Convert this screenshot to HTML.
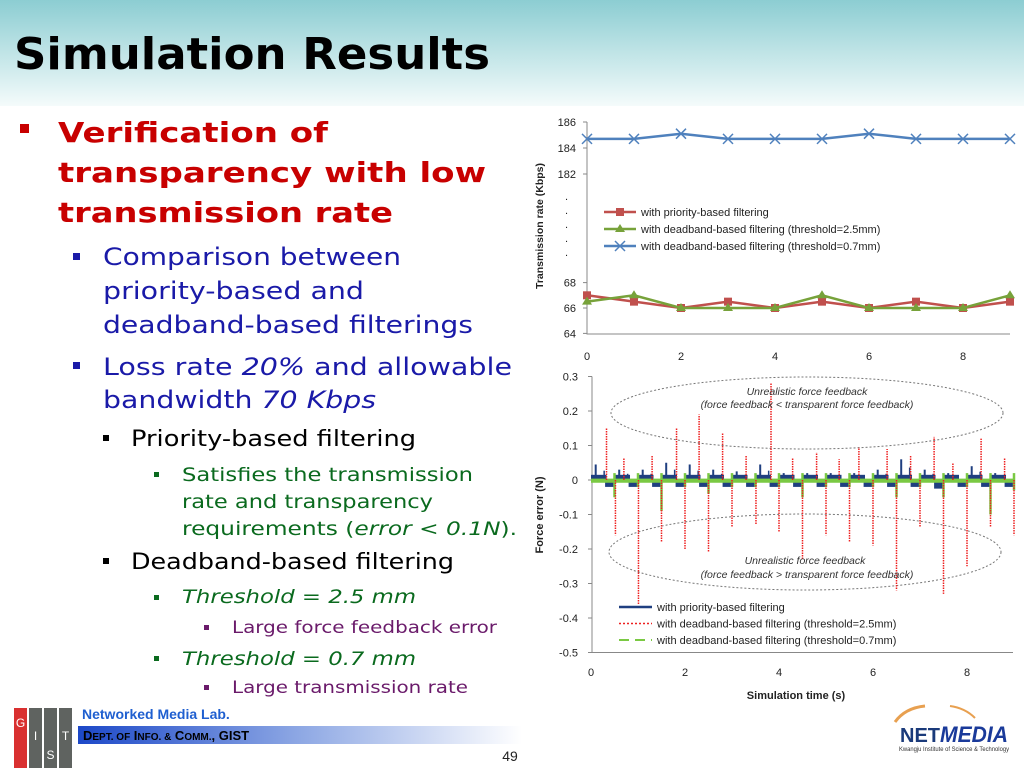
<!DOCTYPE html>
<html><head><meta charset="utf-8"><style>
html,body{margin:0;padding:0;width:1024px;height:768px;overflow:hidden;background:#fff}
svg{display:block;font-family:"DejaVu Sans","Liberation Sans",sans-serif}
.ax{font-family:"Liberation Sans",sans-serif;font-size:11px;fill:#222}
</style></head><body>
<svg id="page" width="1024" height="768" viewBox="0 0 1024 768">
<defs>
<linearGradient id="hdr" x1="0" y1="0" x2="0" y2="1"><stop offset="0" stop-color="#8ccdd2"/><stop offset="1" stop-color="#f4fbfb"/></linearGradient>
<linearGradient id="bar" x1="0" y1="0" x2="1" y2="0"><stop offset="0" stop-color="#1c48c8"/><stop offset="0.5" stop-color="#8ea8e4"/><stop offset="1" stop-color="#ffffff"/></linearGradient>
</defs>
<rect x="0" y="0" width="1024" height="106" fill="url(#hdr)"/>
<text x="14" y="69" font-size="44" font-weight="bold" textLength="476" lengthAdjust="spacingAndGlyphs">Simulation Results</text>

<g>
<rect x="20" y="124" width="9" height="9" fill="#c80000"/>
<g fill="#c80000" font-weight="bold" font-size="28">
<text x="58" y="142" textLength="270" lengthAdjust="spacingAndGlyphs">Verification of</text>
<text x="58" y="182" textLength="428" lengthAdjust="spacingAndGlyphs">transparency with low</text>
<text x="58" y="222" textLength="335" lengthAdjust="spacingAndGlyphs">transmission rate</text>
</g>
<g fill="#1a1aa8" font-size="24">
<rect x="73" y="253" width="7" height="7"/>
<text x="103" y="265" textLength="298" lengthAdjust="spacingAndGlyphs">Comparison between</text>
<text x="103" y="299" textLength="261" lengthAdjust="spacingAndGlyphs">priority-based and</text>
<text x="103" y="333" textLength="370" lengthAdjust="spacingAndGlyphs">deadband-based filterings</text>
<rect x="73" y="362" width="7" height="7"/>
<text x="103" y="375" textLength="409" lengthAdjust="spacingAndGlyphs">Loss rate <tspan font-style="italic">20%</tspan> and allowable</text>
<text x="103" y="408" textLength="273" lengthAdjust="spacingAndGlyphs">bandwidth <tspan font-style="italic">70 Kbps</tspan></text>
</g>
<g fill="#000" font-size="22">
<rect x="103" y="435" width="6" height="6"/>
<text x="131" y="446" textLength="285" lengthAdjust="spacingAndGlyphs">Priority-based filtering</text>
<rect x="103" y="558" width="6" height="6"/>
<text x="131" y="569" textLength="323" lengthAdjust="spacingAndGlyphs">Deadband-based filtering</text>
</g>
<g fill="#0a6a1e" font-size="19">
<rect x="154" y="472" width="5" height="5"/>
<text x="182" y="481" textLength="291" lengthAdjust="spacingAndGlyphs">Satisfies the transmission</text>
<text x="182" y="508" textLength="251" lengthAdjust="spacingAndGlyphs">rate and transparency</text>
<text x="182" y="535" textLength="335" lengthAdjust="spacingAndGlyphs">requirements (<tspan font-style="italic">error &lt; 0.1N</tspan>).</text>
<rect x="154" y="595" width="5" height="5"/>
<text x="182" y="603" font-style="italic" textLength="234" lengthAdjust="spacingAndGlyphs">Threshold = 2.5 mm</text>
<rect x="154" y="656" width="5" height="5"/>
<text x="182" y="665" font-style="italic" textLength="234" lengthAdjust="spacingAndGlyphs">Threshold = 0.7 mm</text>
</g>
<g fill="#6a1a6a" font-size="17">
<rect x="204" y="625" width="5" height="5"/>
<text x="232" y="633" textLength="265" lengthAdjust="spacingAndGlyphs">Large force feedback error</text>
<rect x="204" y="685" width="5" height="5"/>
<text x="232" y="693" textLength="236" lengthAdjust="spacingAndGlyphs">Large transmission rate</text>
</g>
</g>

<g id="chart1"></g>
<g id="chart2"></g>

<g>
<g>
<rect x="14" y="708" width="13" height="60" fill="#d93030"/>
<rect x="29" y="708" width="13" height="60" fill="#5f6360"/>
<rect x="44" y="708" width="13" height="60" fill="#5f6360"/>
<rect x="59" y="708" width="13" height="60" fill="#5f6360"/>
<g fill="#fff" font-family="Liberation Sans" font-size="12" text-anchor="middle">
<text x="20.5" y="727">G</text><text x="35.5" y="740">I</text><text x="50.5" y="759">S</text><text x="65.5" y="740">T</text></g>
</g>
<text x="82" y="719" font-family="Liberation Sans" font-weight="bold" font-size="14" fill="#1f5fd0">Networked Media Lab.</text>
<rect x="78" y="726" width="444" height="18" fill="url(#bar)"/>
<text x="83" y="740" font-family="Liberation Sans" font-weight="bold" font-size="13" fill="#000">D<tspan font-size="10">EPT. OF</tspan> I<tspan font-size="10">NFO. &amp;</tspan> C<tspan font-size="10">OMM.</tspan>, GIST</text>
<text x="510" y="761" font-family="Liberation Sans" font-size="14" text-anchor="middle" fill="#222">49</text>
<g>
<path d="M895 722 Q905 708 925 706" stroke="#e8a050" stroke-width="3" fill="none"/>
<path d="M950 706 Q965 708 975 718" stroke="#e8a050" stroke-width="2" fill="none"/>
<text x="900" y="742" font-family="Liberation Sans" font-weight="bold" font-size="20" fill="#1a3a7a" textLength="40" lengthAdjust="spacingAndGlyphs">NET</text>
<text x="940" y="742" font-family="Liberation Sans" font-weight="bold" font-style="italic" font-size="22" fill="#1a3a9a" textLength="68" lengthAdjust="spacingAndGlyphs">MEDIA</text>
<text x="899" y="751" font-family="Liberation Sans" font-size="6" fill="#333" textLength="110" lengthAdjust="spacingAndGlyphs">Kwangju Institute of Science &amp; Technology</text>
</g>
</g>
</svg>
<script>
// ---- Chart 1 data ----
const c1Times = [0,1,2,3,4,5,6,7,8,9];
const c1Priority = [67,66.5,66,66.5,66,66.5,66,66.5,66,66.5];
const c1Dead25 = [66.5,67,66,66,66,67,66,66,66,67];
const c1Dead07 = [184.7,184.7,185.1,184.7,184.7,184.7,185.1,184.7,184.7,184.7];
const c1YTicksHigh = [186,184,182];
const c1YTicksLow = [68,66,64];
const c1XTicks = [0,2,4,6,8];
const c1Legend = ["with priority-based filtering","with deadband-based filtering (threshold=2.5mm)","with deadband-based filtering (threshold=0.7mm)"];

// ---- Chart 2 data ----
const c2UpTimes = [0.33,0.7,1.3,1.82,2.3,2.8,3.3,3.83,4.29,4.8,5.28,5.7,6.3,6.8,7.3,7.7,8.3,8.8];
const c2UpVals = [0.15,0.065,0.07,0.15,0.19,0.135,0.07,0.28,0.065,0.08,0.06,0.095,0.09,0.07,0.125,0.05,0.12,0.065];
const c2DownTimes = [0.52,1.01,1.5,2.0,2.5,3.0,3.51,4.0,4.5,5.0,5.5,6.0,6.5,7.0,7.5,8.0,8.5,9.0];
const c2DownVals = [-0.16,-0.36,-0.18,-0.2,-0.21,-0.135,-0.13,-0.15,-0.23,-0.16,-0.18,-0.19,-0.32,-0.135,-0.33,-0.25,-0.135,-0.16];
const c2GreenTimes = [0.5,1.0,1.5,2.0,2.5,3.0,3.5,4.0,4.5,5.0,5.5,6.0,6.5,7.0,7.5,8.0,8.5,9.0];
const c2GreenVals = [-0.05,-0.02,-0.09,-0.02,-0.04,-0.02,-0.02,-0.02,-0.05,-0.02,-0.02,-0.02,-0.05,-0.02,-0.05,-0.02,-0.1,-0.03];
const c2BlueTimes = [0.1,0.6,1.1,1.6,2.1,2.6,3.1,3.6,4.1,4.6,5.1,5.6,6.1,6.6,7.1,7.6,8.1,8.6];
const c2BluePeaks = [0.045,0.03,0.03,0.05,0.045,0.03,0.025,0.045,0.02,0.02,0.02,0.02,0.03,0.06,0.03,0.02,0.04,0.02];
const c2BlueDips = [-0.02,-0.02,-0.02,-0.02,-0.02,-0.02,-0.02,-0.02,-0.02,-0.02,-0.02,-0.02,-0.02,-0.02,-0.025,-0.02,-0.02,-0.02];
const c2YTicks = [0.3,0.2,0.1,0,-0.1,-0.2,-0.3,-0.4,-0.5];
const c2XTicks = [0,2,4,6,8];
const c2Legend = ["with priority-based filtering","with deadband-based filtering (threshold=2.5mm)","with deadband-based filtering (threshold=0.7mm)"];

const NS="http://www.w3.org/2000/svg";
function mk(parent,tag,attrs,txt){const e=document.createElementNS(NS,tag);for(const k in attrs)e.setAttribute(k,attrs[k]);if(txt!==undefined)e.textContent=txt;parent.appendChild(e);return e;}

// Chart 1
(function(){
const g=document.getElementById('chart1');
const X=t=>587+t*47;
const Y=v=> v>=100 ? 148-(v-184)*13 : 308-(v-66)*12.7;
const ax=mk(g,'path',{d:'M587 122 V334 H1010',stroke:'#888',fill:'none'});


c1YTicksHigh.concat(c1YTicksLow).forEach(v=>{
  const t=mk(g,'text',{x:576,y:Y(v)+4,'text-anchor':'end',class:'ax','font-size':'12'},String(v));
  
  
  mk(g,'line',{x1:583,x2:587,y1:Y(v),y2:Y(v),stroke:'#888'});
});
[200,214,228,242,256].forEach(y=>mk(g,'text',{x:565,y:y,'font-size':'10',class:'ax'},'.'));
c1XTicks.forEach(v=>{
  const t=mk(g,'text',{x:X(v),y:360,'text-anchor':'middle',class:'ax','font-size':'12'},String(v));
  
  
});
const yl=mk(g,'text',{transform:'translate(543,226) rotate(-90)','text-anchor':'middle','font-family':'Liberation Sans','font-weight':'bold','font-size':'10.5',fill:'#222'},'Transmission rate (Kbps)');


const series=[[c1Priority,'#c0504d','sq'],[c1Dead25,'#77a23a','tri'],[c1Dead07,'#4f81bd','x']];
series.forEach((s,si)=>{
  const pts=c1Times.map((t,i)=>X(t)+','+Y(s[0][i])).join(' ');
  const pl=mk(g,'polyline',{points:pts,fill:'none',stroke:s[1],'stroke-width':2.5});
  
  
  c1Times.forEach((t,i)=>{
    const x=X(t),y=Y(s[0][i]);
    if(s[2]==='sq') mk(g,'rect',{x:x-4,y:y-4,width:8,height:8,fill:s[1]});
    else if(s[2]==='tri') mk(g,'path',{d:`M${x} ${y-5}L${x+5} ${y+3}L${x-5} ${y+3}Z`,fill:s[1]});
    else mk(g,'path',{d:`M${x-5} ${y-5}L${x+5} ${y+5}M${x-5} ${y+5}L${x+5} ${y-5}`,stroke:s[1],'stroke-width':1.5});
  });
  const ly=212+si*17;
  const lg=mk(g,'g',{});
  
  
  mk(lg,'line',{x1:604,x2:636,y1:ly,y2:ly,stroke:s[1],'stroke-width':2.5});
  if(s[2]==='sq') mk(lg,'rect',{x:616,y:ly-4,width:8,height:8,fill:s[1]});
  else if(s[2]==='tri') mk(lg,'path',{d:`M620 ${ly-5}L625 ${ly+3}L615 ${ly+3}Z`,fill:s[1]});
  else mk(lg,'path',{d:`M615 ${ly-5}L625 ${ly+5}M615 ${ly+5}L625 ${ly-5}`,stroke:s[1],'stroke-width':1.5});
  mk(lg,'text',{x:641,y:ly+4,class:'ax','font-size':'11.5'},c1Legend[si]);
});
})();

// Chart 2
(function(){
const g=document.getElementById('chart2');
const X=t=>591+t*47;
const Y=v=>480-v*345;
const ax=mk(g,'path',{d:`M592 ${Y(0.3)} V${Y(-0.5)} H1013`,stroke:'#888',fill:'none'});


c2YTicks.forEach(v=>{
  const t=mk(g,'text',{x:578,y:Y(v)+4,'text-anchor':'end',class:'ax','font-size':'10.5'},v===0?'0':String(v));
  
  
  mk(g,'line',{x1:588,x2:592,y1:Y(v),y2:Y(v),stroke:'#888'});
});
c2XTicks.forEach(v=>{
  const t=mk(g,'text',{x:X(v),y:676,'text-anchor':'middle',class:'ax','font-size':'11.5'},String(v));
  
  
});
const yl=mk(g,'text',{transform:'translate(543,515) rotate(-90)','text-anchor':'middle','font-family':'Liberation Sans','font-weight':'bold','font-size':'11',fill:'#222'},'Force error (N)');


const xl=mk(g,'text',{x:796,y:699,'text-anchor':'middle','font-family':'Liberation Sans','font-weight':'bold','font-size':'11',fill:'#222'},'Simulation time (s)');


const e1=mk(g,'ellipse',{cx:807,cy:413,rx:196,ry:36,fill:'none',stroke:'#777','stroke-dasharray':'2 2'});


const e2=mk(g,'ellipse',{cx:805,cy:552,rx:196,ry:38,fill:'none',stroke:'#777','stroke-dasharray':'2 2'});


const bl=mk(g,'g',{});


c2BlueTimes.forEach((t,i)=>{
  const x0=X(t-0.1);
  mk(bl,'rect',{x:x0,y:Y(0.015),width:47*0.33,height:Y(0)-Y(0.015),fill:'#1f3f80'});
  mk(bl,'rect',{x:X(t+0.2),y:Y(0),width:47*0.22,height:Y(c2BlueDips[i])-Y(0),fill:'#1f3f80'});
  mk(bl,'line',{x1:X(t),x2:X(t),y1:Y(0),y2:Y(c2BluePeaks[i]),stroke:'#1f3f80','stroke-width':2});
  mk(bl,'line',{x1:X(t+0.18),x2:X(t+0.18),y1:Y(0),y2:Y(c2BluePeaks[i]*0.6),stroke:'#1f3f80','stroke-width':1.5});
});
const gr=mk(g,'g',{});


mk(gr,'rect',{x:X(0),y:Y(0.004),width:X(9)-X(0),height:Y(-0.008)-Y(0.004),fill:'#7ac943'});
c2GreenTimes.forEach((t,i)=>{
  mk(gr,'line',{x1:X(t),x2:X(t),y1:Y(0.02),y2:Y(c2GreenVals[i]),stroke:'#7ac943','stroke-width':2.5});
});
const rd=mk(g,'g',{});


c2UpTimes.forEach((t,i)=>{
  mk(rd,'line',{x1:X(t),x2:X(t),y1:Y(0),y2:Y(c2UpVals[i]),stroke:'#ee2020','stroke-width':1.5,'stroke-dasharray':'1.5 1'});
});
c2DownTimes.forEach((t,i)=>{
  mk(rd,'line',{x1:X(t),x2:X(t),y1:Y(0),y2:Y(c2DownVals[i]),stroke:'#ee2020','stroke-width':1.5,'stroke-dasharray':'1.5 1'});
});
const at=[["Unrealistic force feedback",807,395],["(force feedback < transparent force feedback)",807,408],["Unrealistic force feedback",805,564],["(force feedback > transparent force feedback)",807,578]];
at.forEach(a=>{
  const t=mk(g,'text',{x:a[1],y:a[2],'text-anchor':'middle','font-family':'Liberation Sans','font-style':'italic','font-size':'10.5',fill:'#333'},a[0]);
  
  
});
const styles=[{stroke:'#1f3f80','stroke-width':2.5},{stroke:'#ee2020','stroke-width':1.5,'stroke-dasharray':'2 2'},{stroke:'#7ac943','stroke-width':2,'stroke-dasharray':'10 6'}];
c2Legend.forEach((lab,i)=>{
  const ly=607+i*16.5;
  const lg=mk(g,'g',{});
  
  
  mk(lg,'line',Object.assign({x1:619,x2:652,y1:ly,y2:ly},styles[i]));
  mk(lg,'text',{x:657,y:ly+4,class:'ax','font-size':'11'},lab);
});
})();
</script>
</body></html>
